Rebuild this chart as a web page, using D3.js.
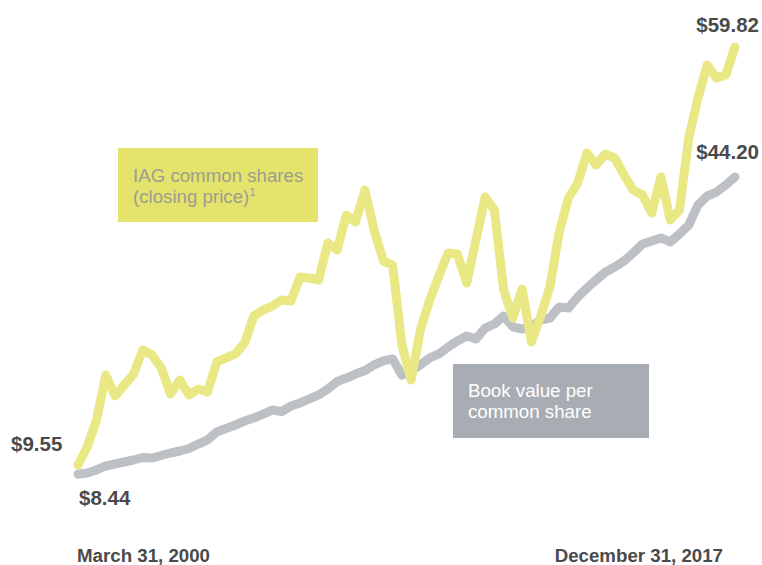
<!DOCTYPE html>
<html lang="en">
<head>
<meta charset="UTF-8"/>
<title>IAG share price vs book value</title>
<script src="https://d3js.org/d3.v7.min.js"></script>
<style>
    html, body { margin: 0; padding: 0; background: #fff; }
    text { font-family: "Liberation Sans", Arial, sans-serif; }
    .endval { font-weight: bold; font-size: 20.5px; fill: #4a4a4a; }
    .date { font-weight: bold; font-size: 18.7px; fill: #4a4a4a; }
    .boxtxt { font-size: 18.7px; }
</style>
</head>
<body>
<svg width="762" height="565"></svg>
<script>
// quarterly closing price, Mar 2000 .. Dec 2017
var sharePrice = [
    9.55, 11.71, 14.96, 20.37, 17.85, 19.17, 20.49, 23.38, 22.78, 21.21,
    18.09, 19.77, 17.97, 18.69, 18.33, 21.94, 22.42, 22.90, 24.22, 27.47,
    28.19, 28.67, 29.39, 29.27, 32.16, 32.04, 31.80, 36.25, 35.41, 39.61,
    38.77, 42.62, 37.81, 34.08, 33.60, 23.98, 19.77, 25.78, 29.39, 32.28,
    35.05, 34.93, 31.44, 36.61, 41.78, 40.22, 30.60, 27.23, 30.72, 24.34,
    27.47, 30.96, 37.57, 41.66, 43.46, 47.07, 45.63, 46.95, 46.47, 44.43,
    42.62, 42.02, 39.86, 44.19, 39.01, 40.22, 48.87, 53.69, 57.65, 56.09,
    56.45, 59.82
];
// book value per common share, same quarters
var bookValue = [
    8.44, 8.59, 8.95, 9.43, 9.67, 9.91, 10.15, 10.45, 10.39, 10.69,
    10.99, 11.23, 11.53, 12.07, 12.56, 13.52, 13.94, 14.36, 14.84, 15.20,
    15.68, 16.16, 15.98, 16.64, 17.01, 17.49, 17.97, 18.69, 19.59, 20.01,
    20.49, 20.91, 21.58, 22.06, 22.30, 20.37, 20.85, 21.58, 22.42, 22.90,
    23.74, 24.46, 25.06, 24.70, 26.02, 26.51, 27.47, 26.15, 25.90, 26.27,
    26.99, 27.23, 28.55, 28.43, 29.75, 30.84, 31.80, 32.76, 33.36, 34.08,
    35.05, 36.13, 36.49, 36.85, 36.37, 37.33, 38.41, 40.82, 41.90, 42.38,
    43.22, 44.20
];
var dateLabels = ["March 31, 2000", "December 31, 2017"];
var seriesNames = [["IAG common shares", "(closing price)"], ["Book value per", "common share"]];

var svg = d3.select("svg");

var x = d3.scaleLinear()
    .domain([0, sharePrice.length - 1])
    .range([78, 735]);

var y = d3.scaleLinear()
    .domain([0, 60])
    .range([544.4, 45.5]);

var line = d3.line()
    .x(function(d, i) { return x(i); })
    .y(function(d) { return y(d); });

// series boxes
var yb = svg.append("g").attr("transform", "translate(118,148)");
yb.append("rect").attr("width", 200).attr("height", 74).attr("fill", "#e4e46c");
yb.append("text").attr("class", "boxtxt").attr("x", 15).attr("y", 34)
    .attr("fill", "#9d9d8f").text(seriesNames[0][0]);
var t2 = yb.append("text").attr("class", "boxtxt").attr("x", 15).attr("y", 55)
    .attr("fill", "#9d9d8f").text(seriesNames[0][1]);
t2.append("tspan").attr("dy", -7).style("font-size", "11.5px").text("1");

var gb = svg.append("g").attr("transform", "translate(453,364)");
gb.append("rect").attr("width", 196).attr("height", 74).attr("fill", "#a8adb4");
gb.append("text").attr("class", "boxtxt").attr("x", 15).attr("y", 33)
    .attr("fill", "#ffffff").text(seriesNames[1][0]);
gb.append("text").attr("class", "boxtxt").attr("x", 15).attr("y", 54)
    .attr("fill", "#ffffff").text(seriesNames[1][1]);

svg.append("path")
    .datum(bookValue)
    .attr("d", line)
    .attr("fill", "none")
    .attr("stroke", "#bdc1c5")
    .attr("stroke-width", 9)
    .attr("stroke-linecap", "round")
    .attr("stroke-linejoin", "round");

svg.append("path")
    .datum(sharePrice)
    .attr("d", line)
    .attr("fill", "none")
    .attr("stroke", "#e9e884")
    .attr("stroke-width", 9)
    .attr("stroke-linecap", "round")
    .attr("stroke-linejoin", "round");

// end values
var last = sharePrice.length - 1;
function fmt(v) { return "$" + v.toFixed(2); }

svg.append("text").attr("class", "endval")
    .attr("x", x(0) - 67).attr("y", y(sharePrice[0]) - 14)
    .text(fmt(sharePrice[0]));
svg.append("text").attr("class", "endval")
    .attr("x", x(0) + 1).attr("y", y(bookValue[0]) + 31)
    .text(fmt(bookValue[0]));
svg.append("text").attr("class", "endval")
    .attr("x", x(last) + 24).attr("y", y(sharePrice[last]) - 15)
    .attr("text-anchor", "end")
    .text(fmt(sharePrice[last]));
svg.append("text").attr("class", "endval")
    .attr("x", x(last) + 24).attr("y", y(bookValue[last]) - 18)
    .attr("text-anchor", "end")
    .text(fmt(bookValue[last]));

// dates
svg.append("text").attr("class", "date")
    .attr("x", x(0) - 1).attr("y", 562)
    .text(dateLabels[0]);
svg.append("text").attr("class", "date")
    .attr("x", x(last) - 12).attr("y", 562)
    .attr("text-anchor", "end")
    .text(dateLabels[1]);
</script>
</body>
</html>
